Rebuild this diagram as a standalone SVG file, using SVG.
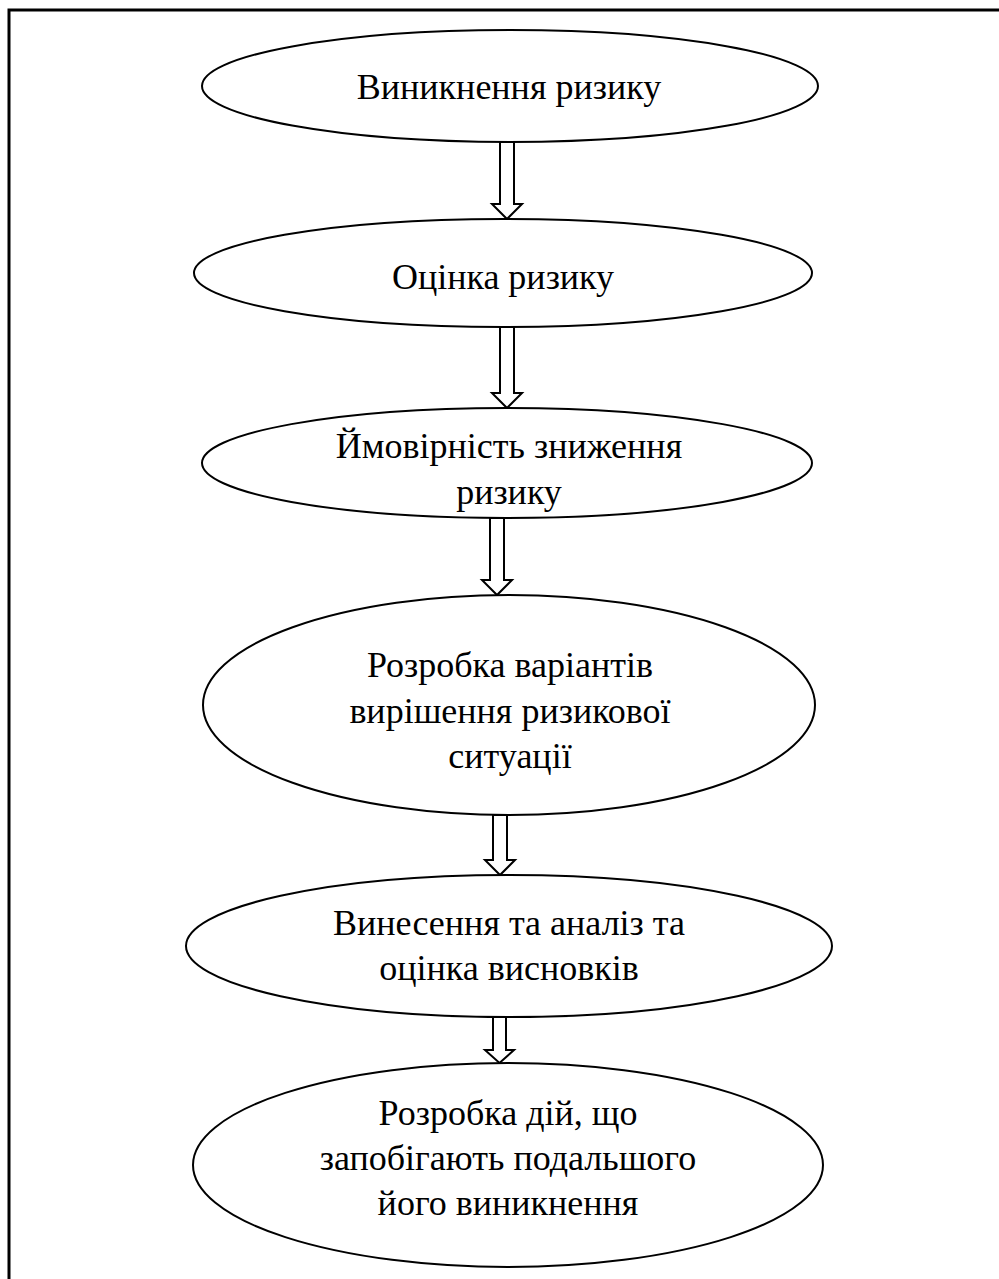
<svg xmlns="http://www.w3.org/2000/svg" width="999" height="1279" viewBox="0 0 999 1279">
<style>
.n ellipse{fill:#fff;stroke:#000;stroke-width:2}
.n text{font-family:"Liberation Serif","Times New Roman",serif;font-size:36px;font-weight:normal;fill:#000;text-anchor:middle}
.c polygon{fill:#fff;stroke:#000;stroke-width:2;stroke-linejoin:miter}
</style>
<rect width="999" height="1279" fill="#fff"/>
<rect x="9" y="10" width="1010" height="1300" fill="none" stroke="#000" stroke-width="3"/>
<g id="connectors" class="c">
<polygon points="500,142 514,142 514,204 522,204 507,219 492,204 500,204"/>
<polygon points="500,327 514,327 514,393 522,393 507,408 492,393 500,393"/>
<polygon points="490,518 504,518 504,580 512,580 497,595 482,580 490,580"/>
<polygon points="493,815 507,815 507,860 515,860 500,875 485,860 493,860"/>
<polygon points="493,1017 506,1017 506,1050 514,1050 499.5,1063 485,1050 493,1050"/>
</g>
<g id="n1" class="n"><ellipse cx="510" cy="86" rx="308" ry="56"/><text x="509" y="99">Виникнення ризику</text></g>
<g id="n2" class="n"><ellipse cx="503" cy="273" rx="309" ry="54"/><text x="503" y="289">Оцінка ризику</text></g>
<g id="n3" class="n"><ellipse cx="507" cy="463" rx="305" ry="55"/><text x="509" y="458">Ймовірність зниження</text><text x="509" y="504">ризику</text></g>
<g id="n4" class="n"><ellipse cx="509" cy="705" rx="306" ry="110"/><text x="510" y="677">Розробка варіантів</text><text x="510" y="723">вирішення ризикової</text><text x="510" y="768">ситуації</text></g>
<g id="n5" class="n"><ellipse cx="509" cy="946" rx="323" ry="71"/><text x="509" y="935">Винесення та аналіз та</text><text x="509" y="980">оцінка висновків</text></g>
<g id="n6" class="n"><ellipse cx="508" cy="1165" rx="315" ry="102"/><text x="508" y="1125">Розробка дій, що</text><text x="508" y="1170">запобігають подальшого</text><text x="508" y="1215">його виникнення</text></g>
</svg>
